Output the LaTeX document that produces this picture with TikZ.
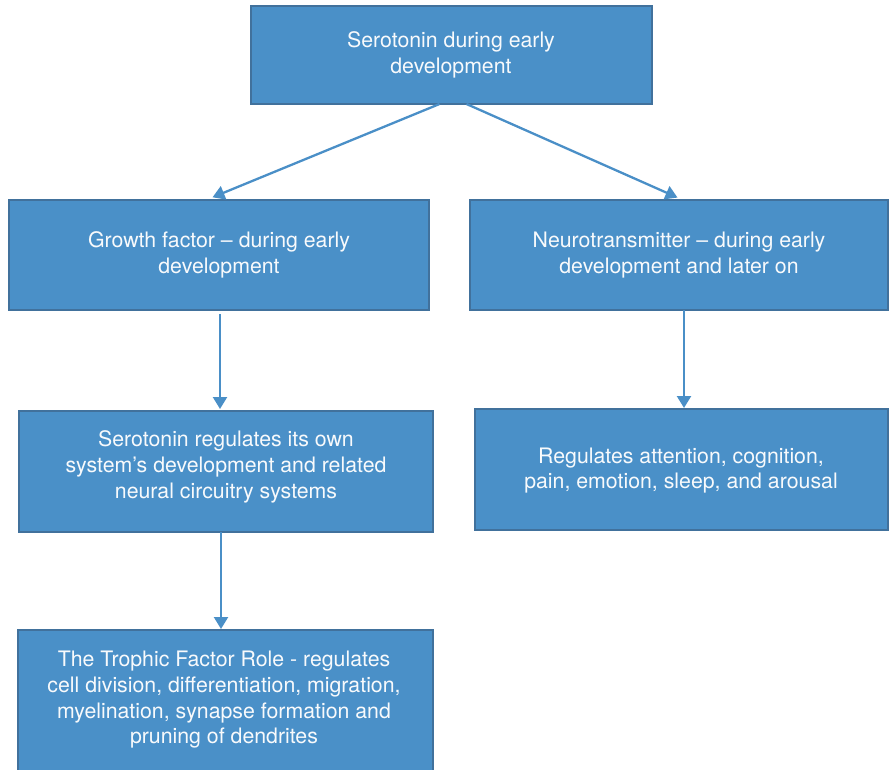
\documentclass[tikz,border=0pt]{standalone}
\usepackage{fontspec}
\setmainfont{TeX Gyre Heros}
\usetikzlibrary{arrows.meta}
\definecolor{boxfill}{HTML}{4A90C8}
\definecolor{boxline}{HTML}{41719C}
\definecolor{arrowc}{HTML}{4A8FC7}
\definecolor{txtc}{HTML}{F8FAFC}
\tikzset{
  box/.style={draw=boxline, line width=2pt, fill=boxfill, inner sep=0pt, outer sep=0pt},
  txt/.style={text=txtc, align=center, inner sep=0pt, font=\fontsize{21.3}{25.7}\selectfont},
  arr/.style={draw=arrowc, line width=2.3pt, -{Triangle[width=14pt,length=12pt]}}
}
\begin{document}
\begin{tikzpicture}[x=1pt,y=-1pt]
\useasboundingbox (0,0) rectangle (889,770);
\clip (0,0) rectangle (889,770);
\node[box, minimum width=401pt, minimum height=98pt] (b1) at (451.5,55) {};
\node[box, minimum width=420pt, minimum height=110pt] (b2) at (219,255) {};
\node[box, minimum width=418pt, minimum height=110pt] (b3) at (679,255) {};
\node[box, minimum width=414pt, minimum height=121pt] (b4) at (226,471.5) {};
\node[box, minimum width=413pt, minimum height=121pt] (b5) at (681.5,469.5) {};
\node[box, minimum width=415pt, minimum height=150pt] (b6) at (225.5,705) {};

\node[txt] (t1) at (451,55) {Serotonin during early\\development};
\node[txt] (t2) at (219,255) {Growth factor -- during early\\development};
\node[txt] (t3) at (679,255) {Neurotransmitter -- during early\\development and later on};
\node[txt] (t4) at (226,467) {Serotonin regulates its own\\system’s development and related\\neural circuitry systems};
\node[txt] (t5) at (681,470.5) {Regulates attention, cognition,\\pain, emotion, sleep, and arousal};
\node[txt] (t6) at (224,700) {The Trophic Factor Role - regulates\\cell division, differentiation, migration,\\myelination, synapse formation and\\pruning of dendrites};

\coordinate (s1) at ([xshift=-12pt]b1.south);
\coordinate (s2) at ([xshift=15pt]b1.south);
\draw[arr, shorten >=7pt] (s1) -- ([xshift=-13pt]b2.north);
\draw[arr, shorten >=6pt] (s2) -- ([xshift=4pt]b3.north);
\draw[arr, shorten >=2pt] ([xshift=1pt,yshift=-4pt]b2.south) -- ([xshift=1pt]b2.south |- b4.north);
\draw[arr, shorten >=1pt] ([xshift=5pt]b3.south) -- ([xshift=5pt]b3.south |- b5.north);
\draw[arr, shorten >=1pt] ([xshift=-5pt]b4.south) -- ([xshift=-5pt]b4.south |- b6.north);
\end{tikzpicture}
\end{document}
